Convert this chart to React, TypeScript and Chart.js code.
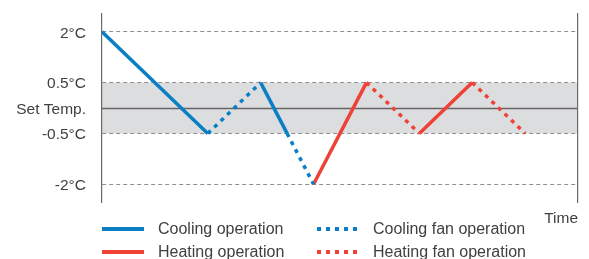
import React, { useEffect, useRef } from "react";
import { Chart, registerables } from "chart.js";

Chart.register(...registerables);

// ---- data ----
const times = [0, 4, 6, 7, 8, 10, 12, 14, 16];
const temps = [2, -0.5, 0.5, -0.5, -2, 0.5, -0.5, 0.5, -0.5]; // °C relative to set temp
const segmentModes = ["cool", "coolFan", "cool", "coolFan", "heat", "heatFan", "heat", "heatFan"];
const modeKeys = ["cool", "coolFan", "heat", "heatFan"];
const modeLabels = ["Cooling operation", "Cooling fan operation", "Heating operation", "Heating fan operation"];
const tickTemps = [-2, -0.5, 0, 0.5, 2];
const tickLabels = ["-2°C", "-0.5°C", "Set Temp.", "0.5°C", "2°C"];
const tickLevels = [0, 2, 3, 4, 6]; // schematic (non-linear) axis levels
const bandTemps = [-0.5, 0.5];
const timeMax = 18;

const BLUE = "#0a7fc4";
const RED = "#ef4136";
const TEXT = "#404040";
const FONT = "'Liberation Sans', Arial, sans-serif";

function toAxis(t: number): number {
  for (let i = 0; i < tickTemps.length - 1; i++) {
    const a = tickTemps[i], b = tickTemps[i + 1];
    if (t >= a && t <= b) {
      return tickLevels[i] + ((t - a) / (b - a)) * (tickLevels[i + 1] - tickLevels[i]);
    }
  }
  return t < tickTemps[0] ? tickLevels[0] : tickLevels[tickLevels.length - 1];
}

const modeStyle: Record<string, { color: string; dash: number[] }> = {
  cool: { color: BLUE, dash: [] },
  coolFan: { color: BLUE, dash: [4, 5] },
  heat: { color: RED, dash: [] },
  heatFan: { color: RED, dash: [4, 5] },
};

function buildData(mode: string) {
  const pts: { x: number; y: number | null }[] = [];
  segmentModes.forEach((m, i) => {
    if (m !== mode) return;
    pts.push({ x: times[i], y: toAxis(temps[i]) });
    pts.push({ x: times[i + 1], y: toAxis(temps[i + 1]) });
    pts.push({ x: times[i + 1], y: null });
  });
  return pts;
}

const backgroundPlugin = {
  id: "bgBand",
  beforeDraw(chart: any) {
    const { ctx, chartArea, scales } = chart;
    const y = scales.y;
    const top = y.getPixelForValue(toAxis(bandTemps[1]));
    const bottom = y.getPixelForValue(toAxis(bandTemps[0]));
    ctx.save();
    ctx.fillStyle = "#dcdddf";
    ctx.fillRect(chartArea.left, top, chartArea.right - chartArea.left, bottom - top);
    const sy = Math.round(y.getPixelForValue(toAxis(0))) + 0.5;
    ctx.strokeStyle = "#666666";
    ctx.lineWidth = 1.3;
    ctx.beginPath();
    ctx.moveTo(chartArea.left, sy);
    ctx.lineTo(chartArea.right, sy);
    ctx.stroke();
    ctx.restore();
  },
};

const legendPlugin = {
  id: "gridLegend",
  afterDraw(chart: any) {
    const { ctx } = chart;
    const cols = [102, 317];
    const rows = [229, 252];
    const order = [0, 2, 1, 3]; // column-major: cooling, heating | cooling fan, heating fan
    ctx.save();
    ctx.font = `16px ${FONT}`;
    ctx.textBaseline = "middle";
    ctx.fillStyle = TEXT;
    order.forEach((dsIndex, k) => {
      const ds = chart.data.datasets[dsIndex];
      const x = cols[Math.floor(k / 2)];
      const yy = rows[k % 2];
      ctx.save();
      ctx.strokeStyle = ds.borderColor;
      ctx.lineWidth = 4;
      ctx.lineCap = "butt";
      ctx.setLineDash(ds.borderDash || []);
      ctx.beginPath();
      ctx.moveTo(x, yy);
      ctx.lineTo(x + 42, yy);
      ctx.stroke();
      ctx.restore();
      ctx.fillStyle = TEXT;
      ctx.fillText(ds.label, x + 56, yy + 1);
    });
    ctx.restore();
  },
};

export default function App() {
  const ref = useRef<HTMLCanvasElement | null>(null);
  useEffect(() => {
    if (!ref.current) return;
    const chart = new Chart(ref.current, {
      type: "line",
      data: {
        datasets: modeKeys.map((m, i) => ({
          label: modeLabels[i],
          data: buildData(m),
          borderColor: modeStyle[m].color,
          backgroundColor: modeStyle[m].color,
          borderDash: modeStyle[m].dash,
          borderWidth: 3.5,
          borderCapStyle: "butt",
          pointRadius: 0,
          tension: 0,
          spanGaps: false,
          fill: false,
        })),
      },
      options: {
        animation: false,
        responsive: true,
        maintainAspectRatio: false,
        layout: { padding: { top: 14, left: 0, right: 0, bottom: 0 } },
        plugins: { legend: { display: false }, tooltip: { enabled: false } },
        scales: {
          x: {
            type: "linear",
            min: 0,
            max: timeMax,
            grid: { display: false },
            border: { display: false },
            ticks: { display: false },
            title: {
              display: true,
              text: "Time",
              align: "end",
              color: TEXT,
              font: { family: FONT, size: 15.5 },
              padding: { top: 0, bottom: 31 },
            },
            afterFit(scale: any) {
              scale.height = 57;
              scale.paddingLeft = 0;
              scale.paddingRight = 0;
            },
          },
          y: {
            type: "linear",
            position: "left",
            min: -0.7,
            max: 6.7,
            afterBuildTicks(scale: any) {
              scale.ticks = tickLevels.map((v) => ({ value: v }));
            },
            afterFit(scale: any) {
              scale.width = 102;
              scale.paddingTop = 0;
              scale.paddingBottom = 0;
            },
            ticks: {
              color: TEXT,
              font: { family: FONT, size: 15.5 },
              padding: 16,
              labelOffset: 1.5,
              callback: (v: any) => {
                const i = tickLevels.indexOf(Number(v));
                return i >= 0 ? tickLabels[i] : "";
              },
            },
            grid: {
              drawTicks: false,
              color: (c: any) => (c.tick && c.tick.value === toAxis(0) ? "rgba(0,0,0,0)" : "#8e8e8e"),
              lineWidth: 1,
            },
            border: { display: true, color: "#6a6a6a", width: 1.2, dash: [4, 3] },
          },
          y2: {
            type: "linear",
            position: "right",
            min: -0.7,
            max: 6.7,
            ticks: { display: false },
            grid: { display: false },
            border: { display: true, color: "#6a6a6a", width: 1.2 },
            afterFit(scale: any) {
              scale.width = 11;
              scale.paddingTop = 0;
              scale.paddingBottom = 0;
            },
          },
        },
      } as any,
      plugins: [backgroundPlugin, legendPlugin],
    });
    return () => chart.destroy();
  }, []);
  return (
    <div style={{ position: "fixed", left: 0, top: 0, width: 589, height: 259, background: "#fff" }}>
      <canvas ref={ref} />
    </div>
  );
}
